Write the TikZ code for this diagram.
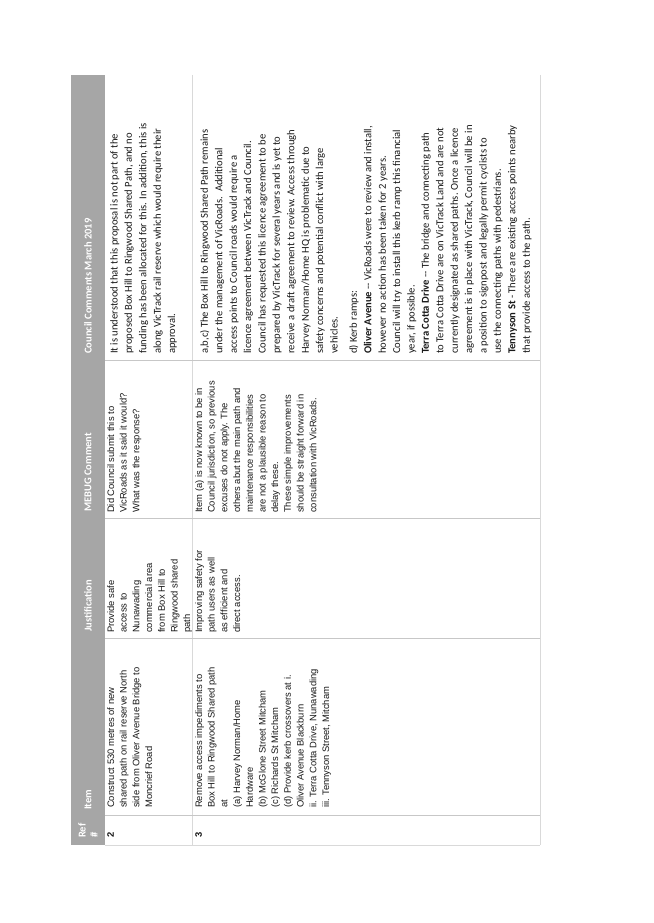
\documentclass[tikz,border=0pt]{standalone}
\usepackage{fontspec}
\setmainfont{Liberation Sans}
\newfontfamily\calfont{Carlito}
\begin{document}
\begin{tikzpicture}[x=1pt,y=-1pt,
  cellA/.style={rotate=90,anchor=north west,inner sep=0pt,align=left,font=\fontsize{9.4}{12.7}\selectfont,text=black!90},
  cellC/.style={rotate=90,anchor=north west,inner sep=0pt,align=left,font=\calfont\fontsize{10.6}{14.4}\selectfont,text=black!90},
  head/.style={rotate=90,anchor=west,inner sep=0pt,align=left,font=\calfont\bfseries\fontsize{10.5}{12}\selectfont,text=white},
  grid/.style={draw=black!15,line width=0.6pt}]
\useasboundingbox (0,0) rectangle (653,923);
\fill[white] (0,0) rectangle (653,923);
% header band
\fill[black!35] (71,75) rectangle (105,845);
\draw[grid] (105,845) -- (540,845);
\draw[grid] (192,75) -- (192,845);
\draw[grid] (540,75) -- (540,845);
\foreach \yy in {815,638,518,360} \draw[black!22,line width=0.6pt] (105,\yy) -- (540,\yy);
% header texts
\node[head] (h1) at (88,838) {Ref\\\#};
\node[head] (h2) at (88,810) {Item};
\node[head] (h3) at (88,632) {Justification};
\node[head] (h4) at (88,512) {MEBUG Comment};
\node[head] (h5) at (88,354) {Council Comments March 2019};
% row 2
\node[cellA] (r2a) at (107,838) {\bfseries 2};
\node[cellA] (r2b) at (107,808) {Construct 530 metres of new\\shared path on rail reserve North\\side from Oliver Avenue Bridge to\\Moncrief Road};
\node[cellA] (r2c) at (107,633) {Provide safe\\access to\\Nunawading\\commercial area\\from Box Hill to\\Ringwood shared\\path};
\node[cellA] (r2d) at (107,513) {Did Council submit this to\\VicRoads as it said it would?\\What was the response?};
\node[cellC] (r2e) at (110,354) {It is understood that this proposal is not part of the\\proposed Box Hill to Ringwood Shared Path, and no\\funding has been allocated for this. In addition, this is\\along VicTrack rail reserve which would require their\\approval.};
% row 3
\node[cellA] (r3a) at (195,838) {\bfseries 3};
\node[cellA] (r3b) at (195,808) {Remove access impediments to\\Box Hill to Ringwood Shared path\\at\\(a) Harvey Norman/Home\\Hardware\\(b) McGlone Street Mitcham\\(c) Richards St Mitcham\\(d) Provide kerb crossovers at i.\\Oliver Avenue Blackburn\\ii. Terra Cotta Drive, Nunawading\\iii. Tennyson Street, Mitcham};
\node[cellA] (r3c) at (195,633) {Improving safety for\\path users as well\\as efficient and\\direct access.};
\node[cellA] (r3d) at (195,513) {Item (a) is now known to be in\\Council jurisdiction, so previous\\excuses do not apply. The\\others abut the main path and\\maintenance responsibilities\\are not a plausible reason to\\delay these.\\These simple improvements\\should be straight forward in\\consultation with VicRoads.};
\node[cellC] (r3e) at (200,354) {a,b,c) The Box Hill to Ringwood Shared Path remains\\under the management of VicRoads.\ \ Additional\\access points to Council roads would require a\\licence agreement between VicTrack and Council.\\Council has requested this licence agreement to be\\prepared by VicTrack for several years and is yet to\\receive a draft agreement to review. Access through\\Harvey Norman/Home HQ is problematic due to\\safety concerns and potential conflict with large\\vehicles.\\[5pt]d) Kerb ramps:\\\textbf{Oliver Avenue} -- VicRoads were to review and install,\\however no action has been taken for 2 years.\\Council will try to install this kerb ramp this financial\\year, if possible.\\\textbf{Terra Cotta Drive} -- The bridge and connecting path\\to Terra Cotta Drive are on VicTrack Land and are not\\currently designated as shared paths. Once a licence\\agreement is in place with VicTrack, Council will be in\\a position to signpost and legally permit cyclists to\\use the connecting paths with pedestrians.\\\textbf{Tennyson St} - There are existing access points nearby\\that provide access to the path.};
\end{tikzpicture}
\end{document}
